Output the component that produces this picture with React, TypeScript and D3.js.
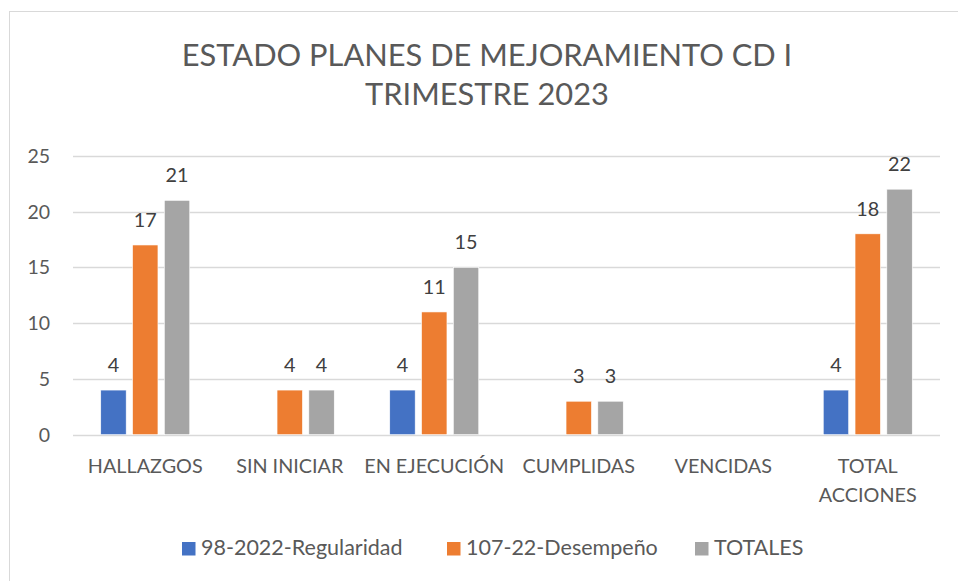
import React from "react";
import * as d3 from "d3";

const categories = ["HALLAZGOS", "SIN INICIAR", "EN EJECUCIÓN", "CUMPLIDAS", "VENCIDAS", "TOTAL ACCIONES"];
const categoryLines = [["HALLAZGOS"], ["SIN INICIAR"], ["EN EJECUCIÓN"], ["CUMPLIDAS"], ["VENCIDAS"], ["TOTAL", "ACCIONES"]];
const seriesNames = ["98-2022-Regularidad", "107-22-Desempeño", "TOTALES"];
const regularidad: (number | null)[] = [4, null, 4, null, null, 4];
const desempeno: (number | null)[] = [17, 4, 11, 3, null, 18];
const totales: (number | null)[] = [21, 4, 15, 3, null, 22];
const yTicks = [0, 5, 10, 15, 20, 25];
const titleLines = ["ESTADO PLANES DE MEJORAMIENTO CD I", "TRIMESTRE 2023"];

const colors = ["#4472C4", "#ED7D31", "#A5A5A5"];
const FONT = "Lato, 'Open Sans', sans-serif";

export default function App() {
  const W = 958, H = 581;
  const left = 73, right = 940, top = 155.7, bottom = 434.7;
  const seriesValues = [regularidad, desempeno, totales];

  const x = d3.scaleBand<string>().domain(categories).range([left, right]).padding(0);
  const groupW = 89;
  const bw = x.bandwidth();
  const xs = d3.scaleBand<string>().domain(seriesNames)
    .range([(bw - groupW) / 2, (bw + groupW) / 2]).paddingInner(0.2).paddingOuter(0);
  const y = d3.scaleLinear().domain([0, 25]).range([bottom, top]);

  const legendX = [182, 447, 695];

  return (
    <svg width={W} height={H} style={{ position: "absolute", left: 0, top: 0, background: "#fff" }}
      fontFamily={FONT}>
      <rect x={0} y={0} width={W} height={H} fill="#fff" />
      <rect x={9.5} y={11.5} width={1000} height={700} fill="#fff" stroke="#D9D9D9" strokeWidth={1} />
      {titleLines.map((t, i) => (
        <text key={t} x={487} y={65.5 + i * 39} textAnchor="middle" fontSize={30.8} fill="#595959">{t}</text>
      ))}
      {yTicks.map(t => (
        <g key={t}>
          <line x1={left} x2={right} y1={Math.round(y(t)) + 0.5} y2={Math.round(y(t)) + 0.5} stroke="#D9D9D9" strokeWidth={1.3} />
          <text x={50} y={y(t) + 7} textAnchor="end" fontSize={19.5} fill="#595959">{t}</text>
        </g>
      ))}
      {categories.map((c, ci) => (
        <g key={c}>
          {seriesValues.map((vals, si) => {
            const v = vals[ci];
            if (v === null) return null;
            const bx = (x(c) as number) + (xs(seriesNames[si]) as number);
            return (
              <g key={si}>
                <rect x={bx} y={y(v)} width={xs.bandwidth()} height={y(0) - y(v)} fill={colors[si]} stroke="#fff" strokeWidth={0.6} />
                <text x={bx + xs.bandwidth() / 2} y={y(v) - 18} textAnchor="middle" fontSize={19.8} fill="#404040">{v}</text>
              </g>
            );
          })}
          {categoryLines[ci].map((ln, li) => (
            <text key={ln} x={(x(c) as number) + bw / 2} y={472.7 + li * 29} textAnchor="middle" fontSize={19.8} fill="#595959">{ln}</text>
          ))}
        </g>
      ))}
      {seriesNames.map((s, i) => (
        <g key={s}>
          <rect x={legendX[i]} y={542} width={13.5} height={13.5} fill={colors[i]} />
          <text x={legendX[i] + 19} y={555.3} fontSize={21.5} fill="#595959">{s}</text>
        </g>
      ))}
    </svg>
  );
}
